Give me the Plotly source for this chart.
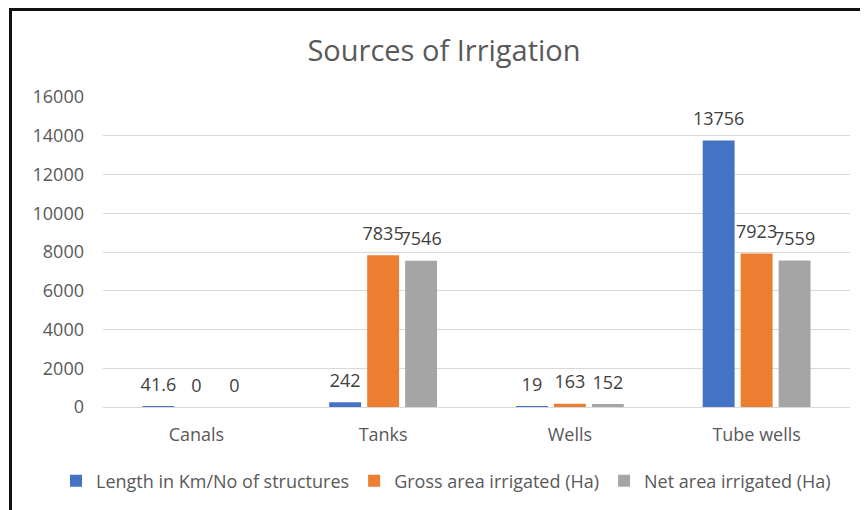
import plotly.graph_objects as go

categories = ["Canals", "Tanks", "Wells", "Tube wells"]
series_names = ["Length in Km/No of structures", "Gross area irrigated (Ha)", "Net area irrigated (Ha)"]
length_km = [41.6, 242, 19, 13756]
gross_area = [0, 7835, 163, 7923]
net_area = [0, 7546, 152, 7559]
label_length = ["41.6", "242", "19", "13756"]
label_gross = ["0", "7835", "163", "7923"]
label_net = ["0", "7546", "152", "7559"]
y_ticks = [0, 2000, 4000, 6000, 8000, 10000, 12000, 14000, 16000]

colors = ["#4472C4", "#ED7D31", "#A5A5A5"]
FONT = "Open Sans"
OFF = 8  # page body margin
SW, SH = 868, 510
W, H = SW - OFF, SH - OFF
# plot area in screen pixels
PX0, PX1, PY0, PY1 = 103, 850, 97, 407
L, R, T, B = PX0 - OFF, SW - PX1, PY0 - OFF, SH - PY1

fig = go.Figure()
values = [length_km, gross_area, net_area]
labels = [label_length, label_gross, label_net]
for i, (name, vals) in enumerate(zip(series_names, values)):
    fig.add_trace(go.Bar(
        x=categories, y=vals, name=name, marker=dict(color=colors[i], line=dict(width=0)),
        offsetgroup=str(i), hoverinfo="skip",
    ))
for i, (vals, labs) in enumerate(zip(values, labels)):
    fig.add_trace(go.Scatter(
        x=categories, y=vals, text=labs, mode="markers+text", textposition="top center",
        marker=dict(size=16, color="rgba(0,0,0,0)"), offsetgroup=str(i),
        textfont=dict(family=FONT, size=18, color="#404040"),
        showlegend=False, hoverinfo="skip", cliponaxis=False,
    ))

pw = PX1 - PX0
ph = PY1 - PY0
def px(x):  # screen x -> paper
    return (x - PX0) / pw
def py(y):  # screen y -> paper
    return (PY1 - y) / ph

fig.update_layout(
    width=W, height=H,
    margin=dict(l=L, r=R, t=T, b=B, pad=0, autoexpand=False),
    paper_bgcolor="white", plot_bgcolor="white",
    barmode="group", scattermode="group",
    bargap=0.39, bargroupgap=0.16,
    font=dict(family=FONT, size=18, color="#595959"),
    title=dict(text="Sources of Irrigation", x=(444 - OFF) / W, xanchor="center",
               y=1 - (51 - OFF) / H, yanchor="middle",
               font=dict(family=FONT, size=29, color="#595959")),
    xaxis=dict(showgrid=False, showline=False, ticks="", zeroline=False,
               tickfont=dict(size=18, color="#595959"), ticklabelstandoff=15),
    yaxis=dict(range=[0, 16000], tickvals=y_ticks, tickformat="d", showgrid=True,
               gridcolor="#D9D9D9", gridwidth=1, zeroline=True, zerolinecolor="#D9D9D9",
               zerolinewidth=1, showline=False, ticks="",
               tickfont=dict(size=18, color="#595959"), ticklabelstandoff=18),
    legend=dict(orientation="h", x=px(56), xanchor="left", y=py(481), yanchor="middle",
                font=dict(size=18, color="#595959"), bgcolor="rgba(0,0,0,0)",
                itemclick=False),
    showlegend=True,
    shapes=[
        dict(type="line", xref="paper", yref="paper", x0=px(9), x1=px(SW + 4), y0=py(9.5), y1=py(9.5),
             line=dict(color="#111111", width=3)),
        dict(type="line", xref="paper", yref="paper", x0=px(10.5), x1=px(10.5), y0=py(8), y1=py(SH + 4),
             line=dict(color="#111111", width=3)),
    ],
)

fig.write_html("out.html")
